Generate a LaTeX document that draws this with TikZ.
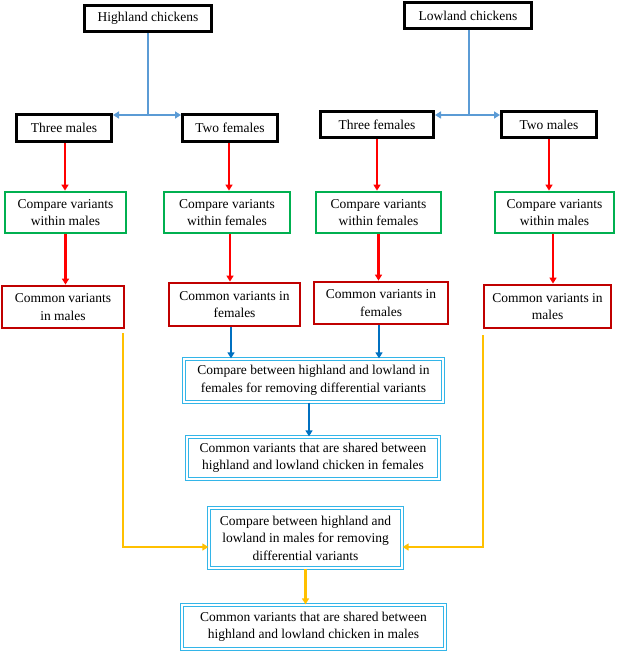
\documentclass[tikz,border=0pt]{standalone}
\usepackage{fontspec}
\setmainfont{Liberation Serif}
\usetikzlibrary{arrows.meta}
\definecolor{boxgreen}{HTML}{00B050}
\definecolor{boxred}{HTML}{C00000}
\definecolor{boxcyan}{HTML}{33B5E8}
\definecolor{arrlight}{HTML}{5B9BD5}
\definecolor{arrblue}{HTML}{0070C0}
\definecolor{arrred}{HTML}{FF0000}
\definecolor{arryellow}{HTML}{FFC000}
\tikzset{
  base/.style={rectangle, inner sep=0pt, align=center, font=\fontsize{13.5}{17.5}\selectfont, text=black},
  blackbox/.style={base, draw=black, line width=3pt},
  greenbox/.style={base, draw=boxgreen, line width=2.8pt},
  redbox/.style={base, draw=boxred, line width=2.8pt},
  dblbox/.style={base, draw=boxcyan, double=white, double distance=1.5pt, line width=1.3pt},
  tipa/.style={-{Triangle[length=6pt,width=7pt]}},
  lightarr/.style={draw=arrlight, line width=2.6pt, tipa},
  redarr/.style={draw=arrred, line width=2.5pt, tipa},
  bluearr/.style={draw=arrblue, line width=2.5pt, tipa},
  yelarr/.style={draw=arryellow, line width=2.5pt, tipa},
}
\begin{document}
\begin{tikzpicture}[x=1pt,y=-1pt]
\useasboundingbox (0,0) rectangle (622,652);
% top
\node[blackbox, minimum width=127pt, minimum height=26pt] (hi) at (148,18.5) {Highland chickens};
\node[blackbox, minimum width=127pt, minimum height=26pt] (lo) at (468,15.5) {Lowland chickens};
\node[blackbox, minimum width=95pt, minimum height=27pt] (hm3) at (64,128) {Three males};
\node[blackbox, minimum width=95pt, minimum height=27pt] (hf2) at (230,128) {Two females};
\node[blackbox, minimum width=113pt, minimum height=26pt] (lf3) at (377,124.5) {Three females};
\node[blackbox, minimum width=95pt, minimum height=26pt] (lm2) at (549,124.5) {Two males};
% green
\node[greenbox, minimum width=121pt, minimum height=41pt] (hcm) at (65.5,212.5) {Compare variants\\within males};
\node[greenbox, minimum width=126pt, minimum height=41pt] (hcf) at (227,212.5) {Compare variants\\within females};
\node[greenbox, minimum width=125pt, minimum height=41pt] (lcf) at (378.5,212.5) {Compare variants\\within females};
\node[greenbox, minimum width=119pt, minimum height=41pt] (lcm) at (554.5,212.5) {Compare variants\\within males};
% red
\node[redbox, minimum width=122pt, minimum height=42pt] (hvm) at (63,307) {Common variants\\in males};
\node[redbox, minimum width=131pt, minimum height=43pt] (hvf) at (234.5,304.5) {Common variants in\\females};
\node[redbox, minimum width=134pt, minimum height=42pt] (lvf) at (381,303) {Common variants in\\females};
\node[redbox, minimum width=127pt, minimum height=43pt] (lvm) at (547.5,306.5) {Common variants in\\males};
% double boxes
\node[dblbox, minimum width=259pt, minimum height=43pt] (cf) at (313.5,380.5) {Compare between highland and lowland in\\females for removing differential variants};
\node[dblbox, minimum width=252pt, minimum height=42pt] (sf) at (313,458) {Common variants that are shared between\\highland and lowland chicken in females};
\node[dblbox, minimum width=193pt, minimum height=60pt] (cm) at (305.5,538) {Compare between highland and\\lowland in males for removing\\differential variants};
\node[dblbox, minimum width=263pt, minimum height=44pt] (sm) at (313.5,627) {Common variants that are shared between\\highland and lowland chicken in males};
% light blue split arrows
\coordinate (hj) at (148,115);
\coordinate (lj) at (469,115);
\draw[draw=arrlight, line width=2.6pt] (hi.south) -- (hj);
\draw[lightarr] (hj) -- (hm3.east |- hj);
\draw[lightarr] (hj) -- (hf2.west |- hj);
\draw[draw=arrlight, line width=2.6pt] (lo.south -| lj) -- (lj);
\draw[lightarr] (lj) -- (lf3.east |- lj);
\draw[lightarr] (lj) -- (lm2.west |- lj);
% red arrows
\draw[redarr] ([xshift=1pt]hm3.south) -- ([xshift=1pt]hm3.south |- hcm.north);
\draw[redarr] ([xshift=-1pt]hf2.south) -- ([xshift=-1pt]hf2.south |- hcf.north);
\draw[redarr] (lf3.south) -- (lf3.south |- lcf.north);
\draw[redarr] (lm2.south) -- (lm2.south |- lcm.north);
\draw[redarr] (hcm.south) -- (hcm.south |- hvm.north);
\draw[redarr] ([xshift=3pt]hcf.south) -- ([xshift=3pt]hcf.south |- hvf.north);
\draw[redarr] (lcf.south) -- (lcf.south |- lvf.north);
\draw[redarr] ([xshift=-1.5pt]lcm.south) -- ([xshift=-1.5pt]lcm.south |- lvm.north);
% dark blue arrows
\draw[bluearr] ([xshift=-3.5pt]hvf.south) -- ([xshift=-3.5pt]hvf.south |- cf.north);
\draw[bluearr] ([xshift=-2pt]lvf.south) -- ([xshift=-2pt]lvf.south |- cf.north);
\draw[bluearr] ([xshift=-4.5pt]cf.south) -- ([xshift=-4.5pt]cf.south |- sf.north);
% yellow arrows
\coordinate (yl) at (123,333);
\coordinate (yr) at (483,335);
\coordinate (ym) at (0,547);
\draw[yelarr] (yl) -- (yl |- ym) -- (cm.west |- ym);
\draw[yelarr] (yr) -- (yr |- ym) -- (cm.east |- ym);
\draw[yelarr] (cm.south) -- (cm.south |- sm.north);
\end{tikzpicture}
\end{document}
